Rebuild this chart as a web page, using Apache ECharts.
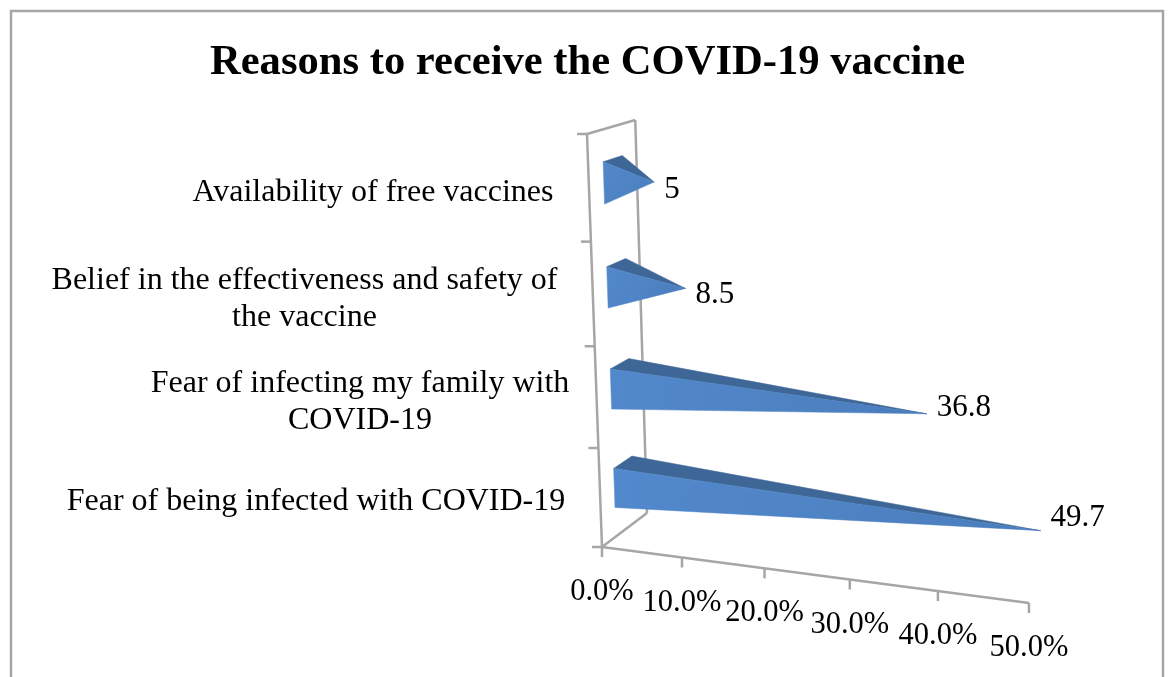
<!DOCTYPE html>
<html>
<head>
<meta charset="utf-8">
<style>html,body{margin:0;padding:0;background:#fff}#c{width:1168px;height:677px}</style>
<script src="https://cdn.jsdelivr.net/npm/echarts@6/dist/echarts.min.js"></script>
</head>
<body>
<div id="c"></div>
<script>
const titleText = 'Reasons to receive the COVID-19 vaccine';
const categories = [
  'Fear of being infected with COVID-19',
  'Fear of infecting my family with\nCOVID-19',
  'Belief in the effectiveness and safety of\nthe vaccine',
  'Availability of free vaccines'
];
const values = [49.7, 36.8, 8.5, 5];
const xTicks = [0, 10, 20, 30, 40, 50];
const xTickLabels = ['0.0%', '10.0%', '20.0%', '30.0%', '40.0%', '50.0%'];

const serif = '"Liberation Serif","Times New Roman",serif';
const gridBox = {left: 602, top: 134, width: 427, height: 413};
const xMax = 50;
const catCentersX = [316, 360, 304.5, 373];
const catCentersY = [502, 402, 299, 193];

// Perspective projection of the chart's box: flat grid pixels -> oblique 3D view
const O = [602, 547];
const PX = [7.875, 1.0328], QX = [-3.547, -97.66], DX = [47.4, -35.8];
const bP = -0.001556, bQ = -0.01354, bD = 0.053;
function project(fx, fy, d) {
  const p = (fx - gridBox.left) / gridBox.width * xMax;
  const q = (gridBox.top + gridBox.height - fy) / gridBox.height * categories.length;
  const den = 1 + bP * p + bQ * q + bD * d;
  return [
    O[0] + (p * PX[0] + q * QX[0] + d * DX[0]) / den,
    O[1] + (p * PX[1] + q * QX[1] + d * DX[1]) / den
  ];
}

const frameColor = '#a6a6a6';
const lineStyle = {stroke: frameColor, lineWidth: 2.5, fill: null};
function seg(a, b) {
  return {type: 'line', shape: {x1: a[0], y1: a[1], x2: b[0], y2: b[1]}, style: lineStyle, silent: true};
}

function renderFrame(params, api) {
  if (params.dataIndex !== 0) return null;
  const cs = params.coordSys;
  const L = cs.x, R = cs.x + cs.width, T = cs.y, B = cs.y + cs.height;
  const ch = [];
  const o = project(L, B, 0), tl = project(L, T, 0), bk = project(L, B, 1), tk = project(L, T, 1), xe = project(R, B, 0);
  ch.push(seg(o, xe), seg(o, tl), seg(o, bk), seg(bk, tk), seg(tl, tk));
  for (let i = 0; i <= categories.length; i++) {
    const fy = B - cs.height * i / categories.length;
    const a = project(L, fy, 0);
    ch.push(seg(a, [a[0] - 10, a[1]]));
  }
  xTicks.forEach((v, i) => {
    const a = project(api.coord([v, categories[0]])[0], B, 0);
    ch.push(seg(a, [a[0], a[1] + 10]));
    ch.push({
      type: 'text', silent: true,
      style: {text: xTickLabels[i], x: a[0], y: a[1] + 45, align: 'center', verticalAlign: 'middle', font: '30.5px ' + serif, fill: '#000'}
    });
  });
  categories.forEach((c, i) => {
    ch.push({
      type: 'text', silent: true,
      style: {text: c, x: catCentersX[i], y: catCentersY[i], align: 'center', verticalAlign: 'middle', font: '32px ' + serif, lineHeight: 37, fill: '#000'}
    });
  });
  return {type: 'group', children: ch};
}

function renderBar(params, api) {
  const v = api.value(0);
  const c = api.value(1);
  const start = api.coord([0, c]);
  const tip = api.coord([v, c]);
  const half = api.size([0, 1])[1] * 0.2;
  const d0 = 0.3, d1 = 0.7;
  const lt = project(start[0], start[1] - half, d0);
  const lb = project(start[0], start[1] + half, d0);
  const bt = project(start[0], start[1] - half, d1);
  const apex = project(tip[0], tip[1], 0.5);
  const poly = (pts, fill) => ({type: 'polygon', shape: {points: pts}, style: {fill: fill, stroke: fill, lineWidth: 0.5}});
  const face = new echarts.graphic.LinearGradient(0, 0, 1, 1, [
    {offset: 0, color: '#5289cc'}, {offset: 1, color: '#4a7dbc'}
  ]);
  return {
    type: 'group',
    children: [
      poly([lt, bt, apex], '#3e6797'),
      poly([lt, apex, lb], face),
      {
        type: 'text',
        style: {
          text: String(v), x: apex[0] + 10, y: apex[1] + 10.5 - 0.46 * v,
          align: 'left', verticalAlign: 'middle', font: '31px ' + serif, fill: '#000'
        }
      }
    ]
  };
}

const chart = echarts.init(document.getElementById('c'), null, {renderer: 'canvas'});
chart.setOption({
  animation: false,
  backgroundColor: '#fff',
  title: {
    text: titleText, left: 582.5, top: 36, textAlign: 'center',
    textStyle: {fontFamily: serif, fontWeight: 'bold', fontSize: 42.6, color: '#000'}
  },
  grid: gridBox,
  xAxis: {type: 'value', min: 0, max: xMax, interval: 10, show: false},
  yAxis: {type: 'category', data: categories, show: false},
  graphic: [{
    type: 'rect', shape: {x: 11, y: 11, width: 1152, height: 700}, silent: true,
    style: {fill: null, stroke: frameColor, lineWidth: 2.5}
  }],
  series: [
    {type: 'custom', name: 'frame', renderItem: renderFrame, data: [[0, 0]], silent: true, z: 1, clip: false},
    {type: 'custom', name: 'Reasons', renderItem: renderBar, silent: true, z: 2, clip: false,
     encode: {x: 0, y: 1},
     data: values.map((v, i) => [v, i])}
  ]
});
</script>
</body>
</html>
